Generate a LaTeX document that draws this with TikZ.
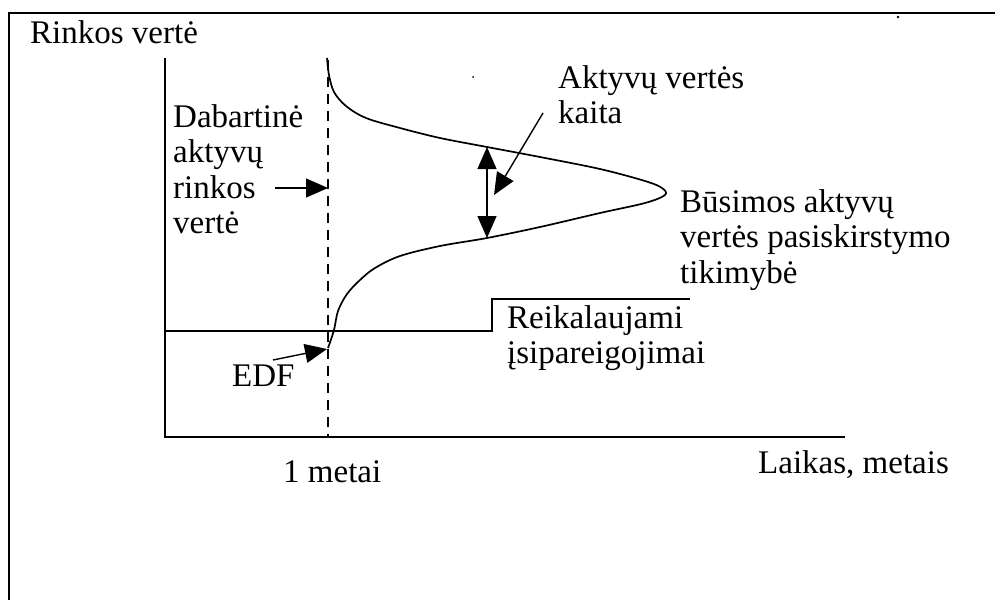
\documentclass[tikz,border=0pt]{standalone}
\usepackage{fontspec}
\setmainfont{Liberation Serif}
\usetikzlibrary{arrows.meta}
\tikzset{
  lbl/.style={anchor=base west, inner sep=0pt, font=\fontsize{33}{35.5}\selectfont},
  ln/.style={line width=1.6pt},
  curveline/.style={line width=1.7pt, line join=round},
  headtip/.tip={Triangle[length=22pt,width=19pt]},
  arr/.style={line width=1.4pt, -headtip},
  darr/.style={line width=1.4pt, headtip-headtip},
}
\begin{document}
\begin{tikzpicture}[x=1pt,y=-1pt]
\useasboundingbox (0,0) rectangle (995,600);
% frame (cut at right and bottom)
\draw[ln] (9,600) -- (9,13) -- (995,13);
% specks
\fill (473,77) circle (1pt);
\fill (898,17) circle (1.3pt);
% axes
\coordinate (ytop) at (165,58);
\coordinate (orig) at (165,437);
\coordinate (xend) at (845,437);
\draw[ln] (ytop) -- (orig) -- (xend);
% dashed one-year line
\coordinate (dtop) at (328,60);
\coordinate (dbot) at (328,437);
\draw[line width=1.4pt, dash pattern=on 10pt off 7pt] (dtop) -- (dbot);
% liabilities step
\coordinate (l0) at (165,331);
\coordinate (l1) at (492,331);
\coordinate (l2) at (492,299);
\coordinate (l3) at (690,299);
\draw[ln] (l0) -- (l1) -- (l2) -- (l3);
% distribution curve
\draw[curveline] plot[smooth, tension=0.55] coordinates {
 (327,58) (329,75) (334,92) (346,106) (366,118) (400,128) (440,138) (487,147)
 (540,157) (600,169) (645,181) (662,188) (665,195)
 (645,203) (600,213) (540,227) (487,238) (440,246) (400,256) (375,268)
 (360,280) (347,294) (338,311) (334,330) (328,348)};
% labels
\node[lbl] (rv) at (30,43) {Rinkos vertė};
\node[lbl] (dab) at (173,127) {\begin{tabular}[t]{@{}l@{}}Dabartinė\\aktyvų\\rinkos\\vertė\end{tabular}};
\node[lbl] (kaita) at (558,88) {\begin{tabular}[t]{@{}l@{}}Aktyvų vertės\\kaita\end{tabular}};
\node[lbl] (bus) at (680,212) {\begin{tabular}[t]{@{}l@{}}Būsimos aktyvų\\vertės pasiskirstymo\\tikimybė\end{tabular}};
\node[lbl] (reik) at (507,328) {\begin{tabular}[t]{@{}l@{}}Reikalaujami\\įsipareigojimai\end{tabular}};
\node[lbl] (edf) at (232,386) {EDF};
\node[lbl] (metai) at (283,482) {1 metai};
\node[lbl] (laikas) at (758,473) {Laikas, metais};
% arrows
\coordinate (a1s) at (275,188);
\coordinate (a1e) at (328,188);
\draw[arr] (a1s) -- (a1e);
\coordinate (ks) at (543,113);
\coordinate (ke) at (494,195);
\draw[arr] (ks) -- (ke);
\coordinate (dt) at (487,147);
\coordinate (db) at (487,238);
\draw[darr] (dt) -- (db);
\coordinate (es) at (273,360);
\coordinate (ee) at (327,349);
\draw[arr] (es) -- (ee);
\end{tikzpicture}
\end{document}
